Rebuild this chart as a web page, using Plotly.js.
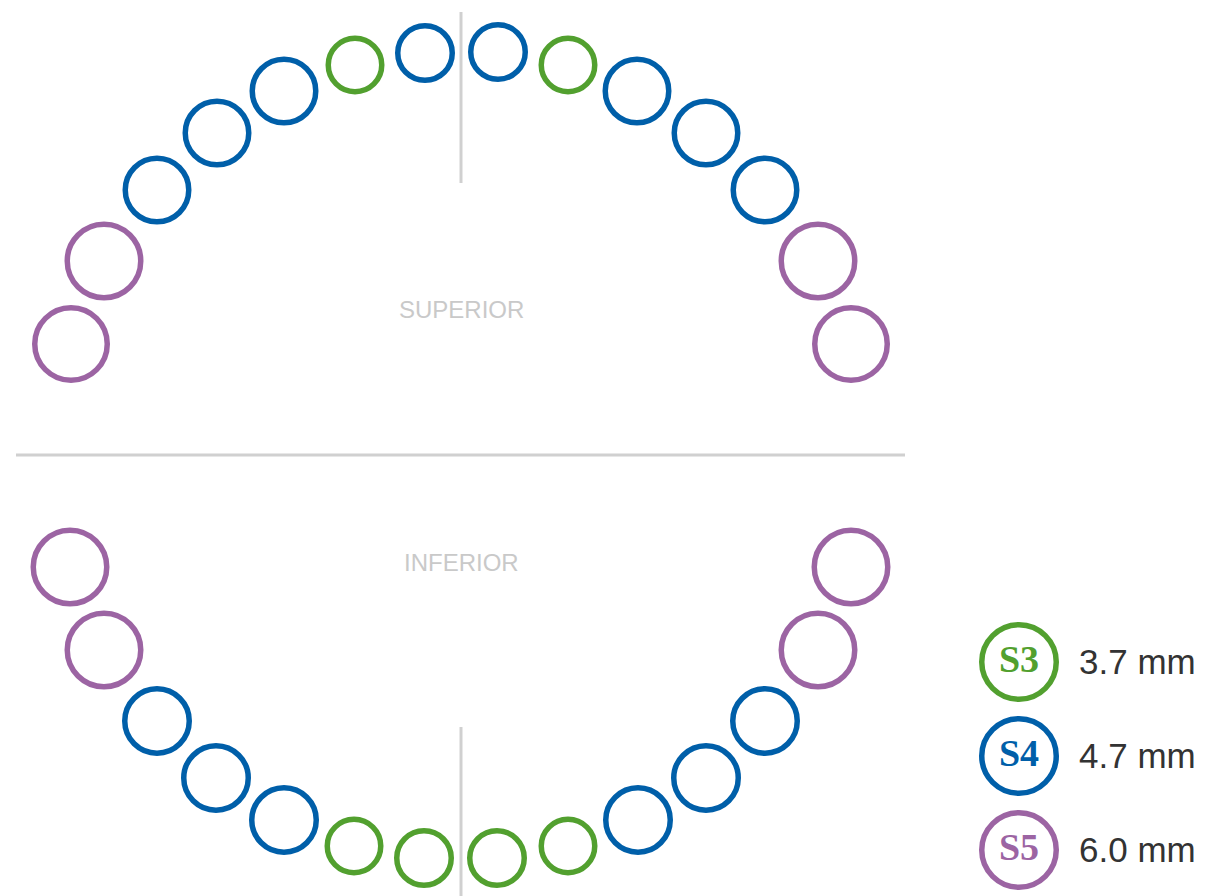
<!DOCTYPE html>
<html>
<head>
<meta charset="utf-8">
<script src="https://cdn.plot.ly/plotly-3.0.1.min.js"></script>
<style>
html,body{margin:0;padding:0;background:#fff;}
#chart{width:1221px;height:896px;}
</style>
</head>
<body>
<div id="chart"></div>
<script>
// ---- data ----
const upperX = [71, 104, 157, 217, 284, 355, 425, 498, 568, 637, 706, 765, 818, 851];
const upperY = [344, 261, 190, 133, 91, 65, 53, 52, 65, 91, 133, 190, 261, 344];
const upperType = ['S5','S5','S4','S4','S4','S3','S4','S4','S3','S4','S4','S4','S5','S5'];
const upperDiam = [78, 79, 69, 69, 69, 59, 60, 60, 59, 69, 69, 69, 79, 78];

const lowerX = [70, 104, 157, 216, 284, 354, 424, 497, 568, 638, 706, 765, 818, 851];
const lowerY = [567, 650, 721, 778, 820, 846, 858, 858, 846, 820, 778, 721, 650, 567];
const lowerType = ['S5','S5','S4','S4','S4','S3','S3','S3','S3','S4','S4','S4','S5','S5'];
const lowerDiam = [79, 79, 70, 70, 70, 59, 60, 60, 59, 70, 70, 70, 79, 79];

const legendCodes = ['S3', 'S4', 'S5'];
const legendLabels = ['3.7 mm', '4.7 mm', '6.0 mm'];
const archLabels = ['SUPERIOR', 'INFERIOR'];

// ---- styles ----
const typeColor = {S3: '#52a02f', S4: '#005fa9', S5: '#9c64a3'};
const LW = 5.5;
const W = 1221, H = 896;

function archTrace(xs, ys, types, diams) {
  return {
    type: 'scatter', mode: 'markers', x: xs, y: ys,
    hoverinfo: 'skip', showlegend: false,
    marker: {
      symbol: 'circle', opacity: 1,
      size: diams.map(d => d - LW),
      color: 'rgba(0,0,0,0)',
      line: {width: LW, color: types.map(t => typeColor[t])}
    }
  };
}

const legX = 1019, legY0 = 662, legDy = 94;
const legYs = legendCodes.map((c, i) => legY0 + i * legDy);
const legendTrace = {
  type: 'scatter', mode: 'markers+text',
  x: legendCodes.map(() => legX), y: legYs,
  text: legendCodes, textposition: 'middle center',
  textfont: {family: 'Liberation Serif, serif', size: 38, color: legendCodes.map(c => typeColor[c]), weight: 700},
  texttemplate: '<b>%{text}</b>',
  hoverinfo: 'skip', showlegend: false,
  marker: {symbol: 'circle', size: 80 - LW, opacity: 1, color: 'rgba(0,0,0,0)',
           line: {width: LW, color: legendCodes.map(c => typeColor[c])}}
};

const annotations = legendLabels.map((t, i) => ({
  x: 1077, y: legYs[i] - 1, xref: 'x', yref: 'y', text: t, showarrow: false,
  xanchor: 'left', yanchor: 'middle',
  font: {family: 'Liberation Sans, Arial, sans-serif', size: 35, color: '#333333'}
})).concat([
  {x: 461, y: 309, xref: 'x', yref: 'y', text: archLabels[0], showarrow: false,
   xanchor: 'center', yanchor: 'middle',
   font: {family: 'Liberation Sans, Arial, sans-serif', size: 24, color: '#c9c9c9'}},
  {x: 461, y: 562, xref: 'x', yref: 'y', text: archLabels[1], showarrow: false,
   xanchor: 'center', yanchor: 'middle',
   font: {family: 'Liberation Sans, Arial, sans-serif', size: 24, color: '#c9c9c9'}}
]);

const lineStyle = {color: '#d0d0d0', width: 3};
const shapes = [
  {type: 'line', xref: 'x', yref: 'y', x0: 461, x1: 461, y0: 12, y1: 183, line: lineStyle},
  {type: 'line', xref: 'x', yref: 'y', x0: 461, x1: 461, y0: 727, y1: 896, line: lineStyle},
  {type: 'line', xref: 'x', yref: 'y', x0: 16, x1: 905, y0: 455, y1: 455, line: lineStyle}
];

const layout = {
  width: W, height: H,
  margin: {l: 0, r: 0, t: 0, b: 0, pad: 0},
  paper_bgcolor: '#ffffff', plot_bgcolor: '#ffffff',
  xaxis: {range: [0, W], visible: false, fixedrange: true},
  yaxis: {range: [H, 0], visible: false, fixedrange: true},
  shapes: shapes,
  annotations: annotations,
  showlegend: false
};

Plotly.newPlot('chart', [
  archTrace(upperX, upperY, upperType, upperDiam),
  archTrace(lowerX, lowerY, lowerType, lowerDiam),
  legendTrace
], layout, {staticPlot: true, displayModeBar: false});
</script>
</body>
</html>
